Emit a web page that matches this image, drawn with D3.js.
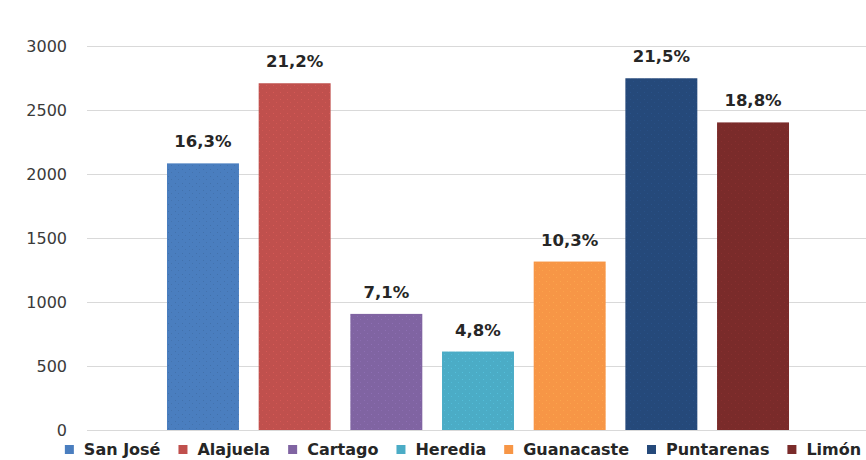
<!DOCTYPE html>
<html>
<head>
<meta charset="utf-8">
<script src="https://cdn.jsdelivr.net/npm/d3@7"></script>
<style>
  html, body { margin: 0; padding: 0; background: #ffffff; }
  svg { display: block; }
</style>
</head>
<body>
<svg id="chart" width="866" height="460"></svg>
<script>
// Provinces of Costa Rica: counts per province and their share of the total
const provinces = ["San José", "Alajuela", "Cartago", "Heredia", "Guanacaste", "Puntarenas", "Limón"];
const counts    = [2083, 2709, 907, 613, 1316, 2748, 2403];
const shares    = ["16,3%", "21,2%", "7,1%", "4,8%", "10,3%", "21,5%", "18,8%"];
const colors    = ["#4a7ebf", "#c0504d", "#8064a2", "#4bacc6", "#f79646", "#25497a", "#7a2b2a"];
const yTicks    = [0, 500, 1000, 1500, 2000, 2500, 3000];

const svg = d3.select("#chart");
const W = 866, H = 460;
const plot = { left: 87, right: 869, top: 46, bottom: 430 };

const y = d3.scaleLinear().domain([0, 3000]).range([plot.bottom, plot.top]);

// one category holding all seven provinces as clustered bars
const x0 = d3.scaleBand().domain(["all"]).range([plot.left, plot.right])
  .paddingInner(0).paddingOuter(0.1286);
const x1 = d3.scaleBand().domain(provinces).range([0, x0.bandwidth()])
  .paddingInner(0.215).paddingOuter(0);

// speckled fills for the bars
const defs = svg.append("defs");
provinces.forEach((p, i) => {
  const base = d3.color(colors[i]);
  const pat = defs.append("pattern")
    .attr("id", "fill" + i)
    .attr("patternUnits", "userSpaceOnUse")
    .attr("width", 7).attr("height", 7);
  pat.append("rect").attr("width", 7).attr("height", 7).attr("fill", colors[i]);
  const dot = i === 0 ? base.darker(0.6) : base.brighter(0.5);
  pat.append("rect").attr("x", 1).attr("y", 1).attr("width", 1).attr("height", 1)
    .attr("fill", dot.formatHex()).attr("opacity", 0.55);
  pat.append("rect").attr("x", 4).attr("y", 4).attr("width", 1).attr("height", 1)
    .attr("fill", dot.formatHex()).attr("opacity", 0.45);
});

// horizontal gridlines and value axis
const yAxis = d3.axisLeft(y).tickValues(yTicks).tickSize(-(W - plot.left)).tickPadding(20)
  .tickFormat(d3.format("d"));
const gy = svg.append("g")
  .attr("transform", `translate(${plot.left},0)`)
  .call(yAxis);
gy.select(".domain").remove();
gy.selectAll(".tick line").attr("stroke", "#d9d9d9").attr("stroke-width", 1);
gy.selectAll(".tick text")
  .attr("fill", "#3a3a3a")
  .style("font-family", "'DejaVu Sans', sans-serif")
  .style("font-size", "16px");

// bars
const barG = svg.append("g").attr("transform", `translate(${x0("all")},0)`);
barG.selectAll("rect.bar")
  .data(provinces)
  .join("rect")
  .attr("class", "bar")
  .attr("x", d => x1(d))
  .attr("y", (d, i) => y(counts[i]))
  .attr("width", x1.bandwidth())
  .attr("height", (d, i) => y(0) - y(counts[i]))
  .attr("fill", (d, i) => `url(#fill${i})`);

// share labels above the bars
barG.selectAll("text.share")
  .data(provinces)
  .join("text")
  .attr("class", "share")
  .attr("x", d => x1(d) + x1.bandwidth() / 2)
  .attr("y", (d, i) => y(counts[i]) - 16)
  .attr("text-anchor", "middle")
  .attr("fill", "#262626")
  .style("font-family", "'DejaVu Sans', sans-serif")
  .style("font-weight", "bold")
  .style("font-size", "16.5px")
  .text((d, i) => shares[i]);

// legend along the bottom, centred
const legend = svg.append("g").attr("class", "legend");
const items = legend.selectAll("g.item")
  .data(provinces)
  .join("g")
  .attr("class", "item");
const swatchToText = 19;
items.append("rect")
  .attr("width", 9).attr("height", 9)
  .attr("y", 445)
  .attr("fill", (d, i) => colors[i]);
items.append("text")
  .attr("x", swatchToText)
  .attr("y", 455)
  .attr("fill", "#262626")
  .style("font-family", "'DejaVu Sans', sans-serif")
  .style("font-weight", "bold")
  .style("font-size", "16px")
  .text(d => d);

const gap = 18;
let cursor = 0;
const offsets = [];
items.each(function () {
  const tw = d3.select(this).select("text").node().getComputedTextLength();
  offsets.push(cursor);
  cursor += swatchToText + tw + gap;
});
const total = cursor - gap;
const startX = 463 - total / 2;
items.attr("transform", (d, i) => `translate(${startX + offsets[i]},0)`);
</script>
</body>
</html>
